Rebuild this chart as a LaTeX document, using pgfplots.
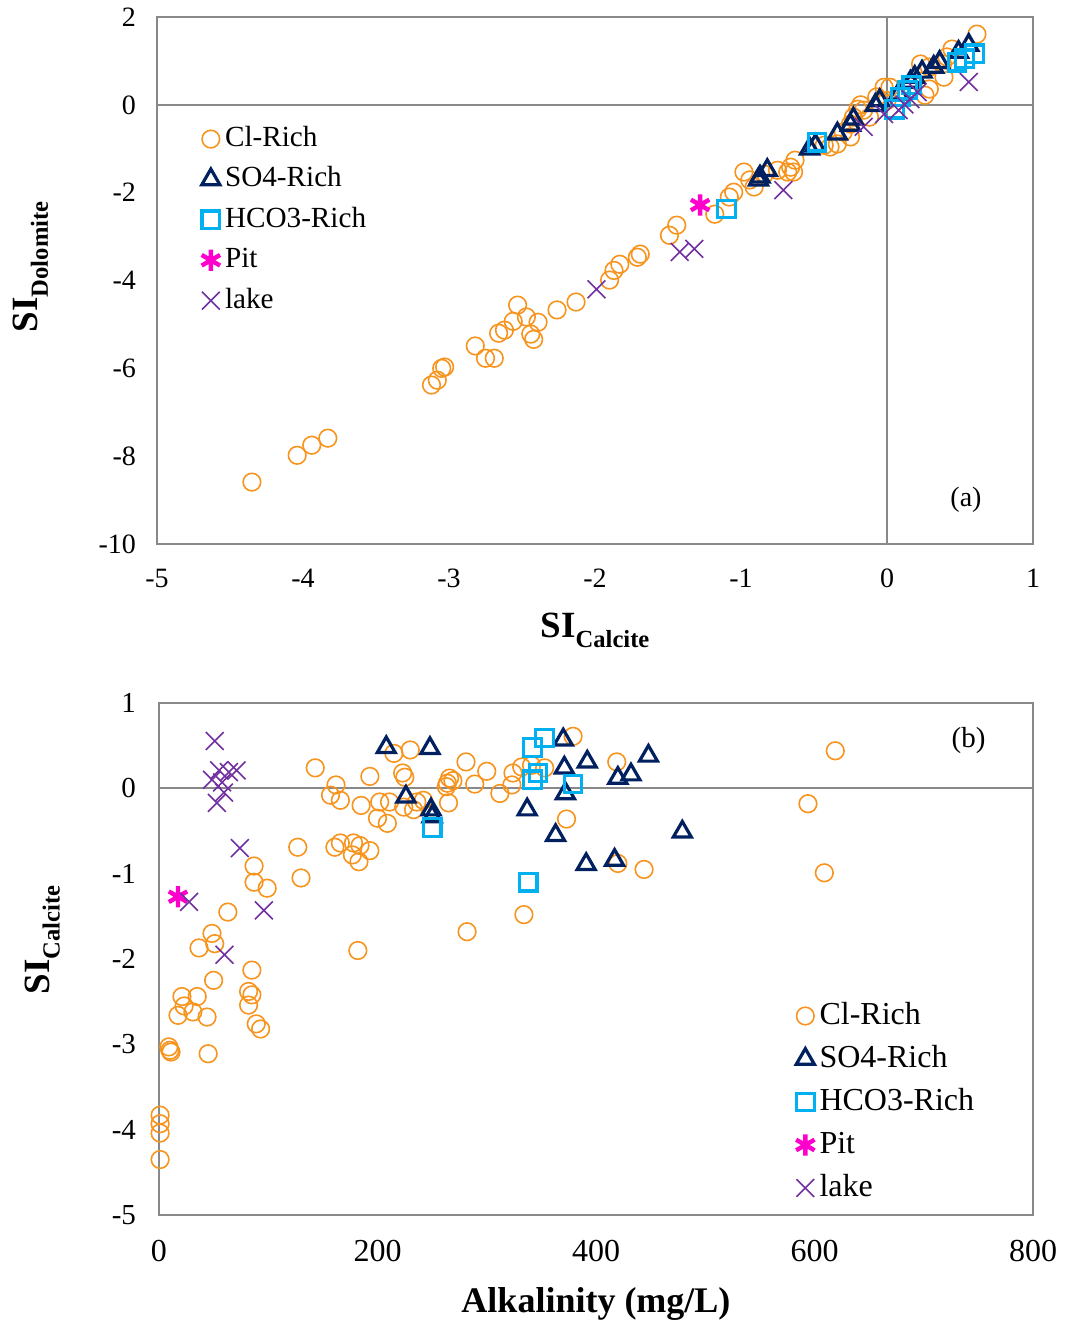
\documentclass[border=0pt]{standalone}
\usepackage{pgfplots}
\pgfplotsset{compat=1.18}
\usepackage{fontspec}
\setmainfont{Liberation Serif}
\definecolor{clr}{RGB}{247,148,30}
\definecolor{navy}{RGB}{0,32,96}
\definecolor{lblue}{RGB}{0,176,240}
\definecolor{mag}{RGB}{255,0,204}
\definecolor{purp}{RGB}{112,48,160}
\definecolor{axgray}{RGB}{137,137,137}
\pgfplotsset{
 clrich/.style={only marks, mark=o, mark size=4.4pt, color=clr, mark options={line width=0.8pt}},
 so4/.style={only marks, mark=triangle, mark size=5.2pt, color=navy, mark options={line width=1.6pt}},
 hco3/.style={only marks, mark=square, mark size=4.4pt, color=lblue, mark options={line width=1.6pt}},
 pit/.style={only marks, mark=asterisk, mark size=5.3pt, color=mag, mark options={line width=2.2pt}},
 lake/.style={only marks, mark=x, mark size=6.3pt, color=purp, mark options={line width=0.8pt}},
 common/.style={scale only axis, anchor=north west,
   major tick length=0pt,
   axis line style={draw=axgray, line width=1pt},
   /pgf/number format/assume math mode=true,
   legend cell align=left,
   legend image code/.code={\draw[mark repeat=2,mark phase=2] plot coordinates {(0pt,0pt)(4.5pt,0pt)(9pt,0pt)};},
 },
}
\begin{document}
\begin{tikzpicture}
\useasboundingbox (0pt,0pt) rectangle (532.5pt,-662pt);
% ---------------- (a) ----------------
\begin{axis}[common, at={(78.5pt,-8.5pt)}, width=438pt, height=263.5pt,
  xmin=-5, xmax=1, ymin=-10, ymax=2,
  xtick={-5,-4,-3,-2,-1,0,1}, ytick={-10,-8,-6,-4,-2,0,2},
  ticklabel style={font=\fontsize{14}{16}\selectfont},
  xticklabel style={yshift=-9pt}, yticklabel style={xshift=-7pt},
  xlabel={\bfseries\fontsize{18.5}{20}\selectfont SI\raisebox{-5pt}{\fontsize{12.3}{14}\selectfont Calcite}},
  xlabel style={at={(rel axis cs:0.5,0)}, anchor=base, yshift=-46.5pt},
  ylabel={\bfseries\fontsize{18.5}{20}\selectfont SI\raisebox{-5pt}{\fontsize{12.3}{14}\selectfont Dolomite}},
  ylabel style={at={(rel axis cs:-0.136,0.526)}, anchor=base},
  legend style={at={(rel axis cs:0.051,0.794)}, anchor=north west, draw=none, fill=none,
    inner sep=0pt, outer sep=0pt, row sep=6.7pt,
    nodes={inner sep=0pt, text height=10.5pt, text depth=3pt},
    font=\fontsize{14.6}{16}\selectfont, column sep=2.5pt},
]
\draw[axgray, line width=1pt] (axis cs:0,-10) -- (axis cs:0,2);
\draw[axgray, line width=1pt] (axis cs:-5,0) -- (axis cs:1,0);
\addplot[clrich] coordinates {
(-4.35,-8.59) (-4.04,-7.98) (-3.94,-7.75) (-3.83,-7.59) (-3.12,-6.38) (-3.08,-6.27)
(-3.05,-6.00) (-3.03,-5.97) (-2.82,-5.49) (-2.75,-5.77) (-2.69,-5.77) (-2.66,-5.20)
(-2.62,-5.13) (-2.56,-4.93) (-2.53,-4.56) (-2.47,-4.83) (-2.44,-5.22) (-2.42,-5.34)
(-2.39,-4.95) (-2.26,-4.67) (-2.13,-4.49) (-1.90,-3.99) (-1.87,-3.77) (-1.83,-3.63)
(-1.71,-3.47) (-1.69,-3.40) (-1.49,-2.97) (-1.44,-2.74) (-1.18,-2.49) (-1.08,-2.10)
(-1.05,-1.99) (-0.98,-1.53) (-0.94,-1.71) (-0.91,-1.87) (-0.84,-1.58) (-0.75,-1.49)
(-0.68,-1.53) (-0.64,-1.53) (-0.66,-1.42) (-0.63,-1.26) (-0.43,-0.92) (-0.39,-0.96)
(-0.34,-0.89) (-0.25,-0.73) (-0.30,-0.62) (-0.25,-0.44) (-0.23,-0.28) (-0.12,-0.28)
(-0.16,-0.12) (-0.20,-0.10) (-0.18,0.00) (0.00,0.10) (-0.07,0.18) (-0.02,0.40)
(0.02,0.40) (0.26,0.22) (0.29,0.36) (0.39,0.63) (0.23,0.93) (0.29,0.86) (0.38,0.93)
(0.41,1.09) (0.445,1.27) (0.616,1.61)
};
\addlegendentry{Cl-Rich}
\addplot[so4] coordinates {
(0.56,1.36) (0.49,1.20) (0.36,0.97) (0.32,0.86) (0.24,0.75) (0.19,0.63) (0.16,0.52)
(0.08,0.25) (-0.05,0.10) (-0.08,-0.01) (-0.23,-0.32) (-0.25,-0.46) (-0.34,-0.66)
(-0.53,-1.00) (-0.49,-0.92) (-0.82,-1.49) (-0.87,-1.64) (-0.88,-1.71)
};
\addlegendentry{SO4-Rich}
\addplot[hco3] coordinates {
(0.60,1.16) (0.53,1.05) (0.48,0.97) (0.17,0.45) (0.14,0.34) (0.09,0.18) (0.05,-0.10)
(-0.48,-0.85) (-1.10,-2.37)
};
\addlegendentry{HCO3-Rich}
\addplot[pit] coordinates {(-1.28,-2.28)};
\addlegendentry{Pit}
\addplot[lake] coordinates {
(0.56,0.52) (0.21,0.29) (0.16,0.13) (0.12,0.01) (0.08,-0.12) (-0.02,-0.21) (-0.16,-0.50)
(-0.71,-1.94) (-1.32,-3.28) (-1.42,-3.35) (-1.99,-4.20)
};
\addlegendentry{lake}
\node[font=\fontsize{14}{16}\selectfont] at (axis cs:0.541,-9.0) {(a)};
\end{axis}
% ---------------- (b) ----------------
\begin{axis}[common, at={(79.5pt,-351.5pt)}, width=437pt, height=256pt,
  xmin=0, xmax=800, ymin=-5, ymax=1,
  xtick={0,200,400,600,800}, ytick={-5,-4,-3,-2,-1,0,1},
  xticklabel style={font=\fontsize{16}{18}\selectfont, yshift=-9pt},
  yticklabel style={font=\fontsize{14.5}{16}\selectfont, xshift=-8pt},
  xlabel={\bfseries\fontsize{18}{20}\selectfont Alkalinity (mg/L)},
  xlabel style={at={(rel axis cs:0.5,0)}, anchor=base, yshift=-48.5pt},
  ylabel={\bfseries\fontsize{18.5}{20}\selectfont SI\raisebox{-5pt}{\fontsize{12.3}{14}\selectfont Calcite}},
  ylabel style={at={(rel axis cs:-0.125,0.537)}, anchor=base},
  legend style={at={(rel axis cs:0.729,0.418)}, anchor=north west, draw=none, fill=none,
    inner sep=0pt, outer sep=0pt, row sep=6.5pt,
    nodes={inner sep=0pt, text height=11.5pt, text depth=3.5pt},
    font=\fontsize{16}{18}\selectfont, column sep=2.5pt},
]
\draw[axgray, line width=1pt] (axis cs:0,0) -- (axis cs:800,0);
\addplot[clrich] coordinates {
(143,0.24) (162,0.04) (157,-0.08) (166,-0.14) (185,-0.20) (193,0.14) (215,0.41) (230,0.45)
(223,0.18) (225,0.13) (202,-0.16) (211,-0.16) (200,-0.35) (209,-0.41) (224,-0.22) (233,-0.25)
(236,-0.16) (242,-0.14) (264,0.06) (266,0.12) (265,-0.17) (269,0.09) (263,0.02) (281,0.31)
(300,0.20) (289,0.05) (312,-0.06) (323,0.04) (324,0.18) (332,0.25) (341,0.27) (353,0.24)
(379,0.61) (419,0.31) (373,-0.36) (420,-0.88) (444,-0.95) (334,-1.48) (282,-1.68)
(619,0.44) (594,-0.18) (609,-0.99) (127,-0.69) (161,-0.69) (166,-0.64) (178,-0.64)
(184,-0.67) (193,-0.73) (177,-0.78) (183,-0.86) (130,-1.05) (87,-0.91) (87,-1.10)
(99,-1.17) (63,-1.45) (48.5,-1.70) (51,-1.82) (36.6,-1.87) (182,-1.90) (85,-2.13)
(50,-2.25) (82,-2.38) (85,-2.42) (82,-2.54) (21,-2.44) (35,-2.44) (23,-2.55) (31,-2.62)
(17.4,-2.66) (44,-2.68) (89,-2.76) (93,-2.82) (9,-3.03) (10,-3.07) (11,-3.09) (45,-3.11)
(1,-3.83) (1,-3.93) (1,-4.04) (1,-4.35)
};
\addlegendentry{Cl-Rich}
\addplot[so4] coordinates {
(208,0.48) (248,0.47) (226,-0.10) (249,-0.25) (250,-0.33) (370,0.57) (371,0.24) (392,0.31)
(448,0.38) (420,0.12) (432,0.16) (372,-0.06) (337,-0.25) (363,-0.55) (479,-0.51)
(391,-0.89) (417,-0.84)
};
\addlegendentry{SO4-Rich}
\addplot[hco3] coordinates {
(250,-0.46) (342,0.48) (353,0.59) (347,0.18) (342,0.10) (379,0.05) (338,-1.10)
};
\addlegendentry{HCO3-Rich}
\addplot[pit] coordinates {(17.4,-1.27)};
\addlegendentry{Pit}
\addplot[lake] coordinates {
(51,0.555) (55,0.21) (64,0.19) (71,0.21) (48.5,0.10) (57.7,0.07) (59.5,-0.05) (53,-0.17)
(74,-0.70) (27.5,-1.33) (96,-1.43) (60,-1.95)
};
\addlegendentry{lake}
\node[font=\fontsize{14.5}{16}\selectfont] at (axis cs:741,0.566) {(b)};
\end{axis}
\end{tikzpicture}
\end{document}
